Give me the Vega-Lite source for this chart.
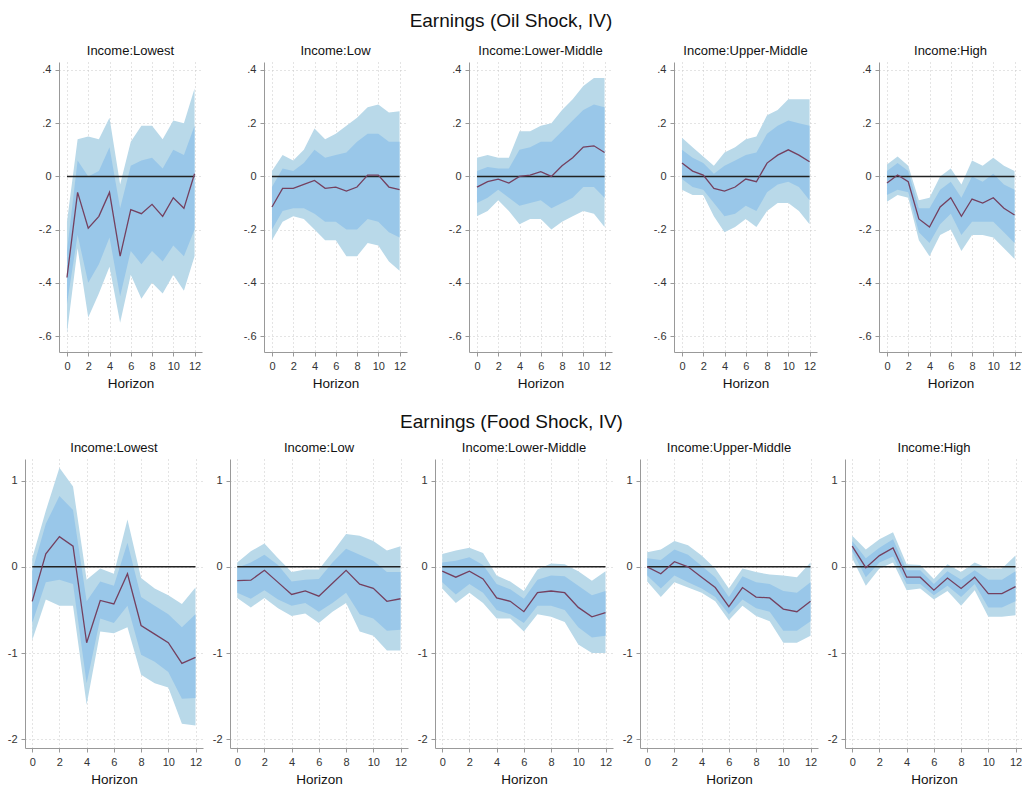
{
  "$schema": "https://vega.github.io/schema/vega-lite/v6.json",
  "padding": {"top": 12, "left": 0, "right": 0, "bottom": 0},
  "background": "white",
  "config": {
    "font": "Liberation Sans",
    "view": {"stroke": null},
    "title": {"fontSize": 19, "fontWeight": "normal", "color": "#111", "anchor": "middle"},
    "header": {"labelFontSize": 13, "labelColor": "#111", "labelPadding": 4, "title": null},
    "axis": {
      "domainColor": "#999", "tickColor": "#999", "tickSize": 4,
      "labelFontSize": 11, "labelColor": "#333", "labelPadding": 4,
      "titleFontSize": 13.5, "titleFontWeight": "normal", "titleColor": "#111", "titlePadding": 5,
      "gridColor": "#c8c8c8", "gridDash": [1, 3], "gridWidth": 1
    }
  },
  "datasets": {
    "oil": [
      {"g":"Lowest","h":0,"b":-0.38,"u90":-0.17,"u68":-0.28,"l68":-0.48,"l90":-0.59},
      {"g":"Lowest","h":1,"b":-0.06,"u90":0.14,"u68":0.06,"l68":-0.22,"l90":-0.27},
      {"g":"Lowest","h":2,"b":-0.195,"u90":0.15,"u68":0.0,"l68":-0.40,"l90":-0.53},
      {"g":"Lowest","h":3,"b":-0.15,"u90":0.14,"u68":0.02,"l68":-0.33,"l90":-0.44},
      {"g":"Lowest","h":4,"b":-0.06,"u90":0.22,"u68":0.11,"l68":-0.23,"l90":-0.34},
      {"g":"Lowest","h":5,"b":-0.30,"u90":-0.03,"u68":-0.12,"l68":-0.45,"l90":-0.55},
      {"g":"Lowest","h":6,"b":-0.125,"u90":0.13,"u68":0.04,"l68":-0.28,"l90":-0.37},
      {"g":"Lowest","h":7,"b":-0.14,"u90":0.19,"u68":0.06,"l68":-0.33,"l90":-0.46},
      {"g":"Lowest","h":8,"b":-0.105,"u90":0.19,"u68":0.07,"l68":-0.28,"l90":-0.40},
      {"g":"Lowest","h":9,"b":-0.15,"u90":0.14,"u68":0.03,"l68":-0.32,"l90":-0.44},
      {"g":"Lowest","h":10,"b":-0.08,"u90":0.21,"u68":0.10,"l68":-0.26,"l90":-0.37},
      {"g":"Lowest","h":11,"b":-0.12,"u90":0.20,"u68":0.08,"l68":-0.30,"l90":-0.43},
      {"g":"Lowest","h":12,"b":0.01,"u90":0.33,"u68":0.19,"l68":-0.20,"l90":-0.30},
      {"g":"Low","h":0,"b":-0.115,"u90":0.02,"u68":-0.04,"l68":-0.20,"l90":-0.24},
      {"g":"Low","h":1,"b":-0.045,"u90":0.08,"u68":0.03,"l68":-0.13,"l90":-0.17},
      {"g":"Low","h":2,"b":-0.045,"u90":0.06,"u68":0.02,"l68":-0.12,"l90":-0.15},
      {"g":"Low","h":3,"b":-0.03,"u90":0.10,"u68":0.05,"l68":-0.12,"l90":-0.16},
      {"g":"Low","h":4,"b":-0.015,"u90":0.18,"u68":0.10,"l68":-0.14,"l90":-0.20},
      {"g":"Low","h":5,"b":-0.045,"u90":0.14,"u68":0.07,"l68":-0.17,"l90":-0.24},
      {"g":"Low","h":6,"b":-0.04,"u90":0.16,"u68":0.08,"l68":-0.17,"l90":-0.24},
      {"g":"Low","h":7,"b":-0.055,"u90":0.19,"u68":0.09,"l68":-0.20,"l90":-0.30},
      {"g":"Low","h":8,"b":-0.04,"u90":0.22,"u68":0.13,"l68":-0.20,"l90":-0.30},
      {"g":"Low","h":9,"b":0.005,"u90":0.26,"u68":0.16,"l68":-0.16,"l90":-0.25},
      {"g":"Low","h":10,"b":0.005,"u90":0.27,"u68":0.16,"l68":-0.17,"l90":-0.26},
      {"g":"Low","h":11,"b":-0.04,"u90":0.24,"u68":0.13,"l68":-0.21,"l90":-0.32},
      {"g":"Low","h":12,"b":-0.05,"u90":0.245,"u68":0.13,"l68":-0.23,"l90":-0.355},
      {"g":"Lower-Middle","h":0,"b":-0.04,"u90":0.07,"u68":0.02,"l68":-0.10,"l90":-0.15},
      {"g":"Lower-Middle","h":1,"b":-0.02,"u90":0.08,"u68":0.035,"l68":-0.08,"l90":-0.13},
      {"g":"Lower-Middle","h":2,"b":-0.01,"u90":0.07,"u68":0.03,"l68":-0.05,"l90":-0.09},
      {"g":"Lower-Middle","h":3,"b":-0.025,"u90":0.07,"u68":0.03,"l68":-0.08,"l90":-0.13},
      {"g":"Lower-Middle","h":4,"b":0.0,"u90":0.17,"u68":0.10,"l68":-0.11,"l90":-0.18},
      {"g":"Lower-Middle","h":5,"b":0.005,"u90":0.17,"u68":0.11,"l68":-0.10,"l90":-0.16},
      {"g":"Lower-Middle","h":6,"b":0.018,"u90":0.19,"u68":0.13,"l68":-0.09,"l90":-0.16},
      {"g":"Lower-Middle","h":7,"b":0.0,"u90":0.20,"u68":0.13,"l68":-0.12,"l90":-0.20},
      {"g":"Lower-Middle","h":8,"b":0.04,"u90":0.25,"u68":0.17,"l68":-0.10,"l90":-0.17},
      {"g":"Lower-Middle","h":9,"b":0.07,"u90":0.29,"u68":0.21,"l68":-0.08,"l90":-0.15},
      {"g":"Lower-Middle","h":10,"b":0.11,"u90":0.34,"u68":0.25,"l68":-0.04,"l90":-0.13},
      {"g":"Lower-Middle","h":11,"b":0.115,"u90":0.37,"u68":0.27,"l68":-0.04,"l90":-0.14},
      {"g":"Lower-Middle","h":12,"b":0.09,"u90":0.37,"u68":0.26,"l68":-0.08,"l90":-0.19},
      {"g":"Upper-Middle","h":0,"b":0.05,"u90":0.145,"u68":0.10,"l68":-0.01,"l90":-0.05},
      {"g":"Upper-Middle","h":1,"b":0.02,"u90":0.11,"u68":0.07,"l68":-0.04,"l90":-0.07},
      {"g":"Upper-Middle","h":2,"b":0.005,"u90":0.075,"u68":0.05,"l68":-0.05,"l90":-0.07},
      {"g":"Upper-Middle","h":3,"b":-0.045,"u90":0.04,"u68":0.01,"l68":-0.10,"l90":-0.15},
      {"g":"Upper-Middle","h":4,"b":-0.055,"u90":0.09,"u68":0.04,"l68":-0.15,"l90":-0.21},
      {"g":"Upper-Middle","h":5,"b":-0.04,"u90":0.11,"u68":0.06,"l68":-0.14,"l90":-0.19},
      {"g":"Upper-Middle","h":6,"b":-0.01,"u90":0.14,"u68":0.08,"l68":-0.11,"l90":-0.16},
      {"g":"Upper-Middle","h":7,"b":-0.02,"u90":0.15,"u68":0.09,"l68":-0.13,"l90":-0.19},
      {"g":"Upper-Middle","h":8,"b":0.05,"u90":0.23,"u68":0.16,"l68":-0.06,"l90":-0.13},
      {"g":"Upper-Middle","h":9,"b":0.08,"u90":0.25,"u68":0.19,"l68":-0.03,"l90":-0.10},
      {"g":"Upper-Middle","h":10,"b":0.10,"u90":0.29,"u68":0.21,"l68":-0.02,"l90":-0.10},
      {"g":"Upper-Middle","h":11,"b":0.08,"u90":0.29,"u68":0.20,"l68":-0.04,"l90":-0.13},
      {"g":"Upper-Middle","h":12,"b":0.055,"u90":0.29,"u68":0.19,"l68":-0.09,"l90":-0.18},
      {"g":"High","h":0,"b":-0.025,"u90":0.045,"u68":0.02,"l68":-0.07,"l90":-0.095},
      {"g":"High","h":1,"b":0.005,"u90":0.075,"u68":0.05,"l68":-0.05,"l90":-0.07},
      {"g":"High","h":2,"b":-0.02,"u90":0.04,"u68":0.02,"l68":-0.06,"l90":-0.08},
      {"g":"High","h":3,"b":-0.16,"u90":-0.09,"u68":-0.12,"l68":-0.21,"l90":-0.24},
      {"g":"High","h":4,"b":-0.19,"u90":-0.08,"u68":-0.12,"l68":-0.25,"l90":-0.30},
      {"g":"High","h":5,"b":-0.115,"u90":0.0,"u68":-0.05,"l68":-0.18,"l90":-0.22},
      {"g":"High","h":6,"b":-0.08,"u90":0.03,"u68":-0.02,"l68":-0.14,"l90":-0.20},
      {"g":"High","h":7,"b":-0.15,"u90":-0.03,"u68":-0.08,"l68":-0.22,"l90":-0.28},
      {"g":"High","h":8,"b":-0.085,"u90":0.06,"u68":0.0,"l68":-0.17,"l90":-0.22},
      {"g":"High","h":9,"b":-0.10,"u90":0.04,"u68":-0.02,"l68":-0.17,"l90":-0.22},
      {"g":"High","h":10,"b":-0.08,"u90":0.07,"u68":0.01,"l68":-0.17,"l90":-0.23},
      {"g":"High","h":11,"b":-0.12,"u90":0.04,"u68":-0.03,"l68":-0.21,"l90":-0.27},
      {"g":"High","h":12,"b":-0.145,"u90":0.02,"u68":-0.05,"l68":-0.25,"l90":-0.31}
    ],
    "food": [
      {"g":"Lowest","h":0,"b":-0.40,"u90":0.10,"u68":-0.05,"l68":-0.65,"l90":-0.85},
      {"g":"Lowest","h":1,"b":0.15,"u90":0.65,"u68":0.50,"l68":-0.18,"l90":-0.38},
      {"g":"Lowest","h":2,"b":0.35,"u90":1.15,"u68":0.82,"l68":-0.15,"l90":-0.45},
      {"g":"Lowest","h":3,"b":0.24,"u90":0.93,"u68":0.66,"l68":-0.20,"l90":-0.45},
      {"g":"Lowest","h":4,"b":-0.88,"u90":-0.15,"u68":-0.40,"l68":-1.35,"l90":-1.60},
      {"g":"Lowest","h":5,"b":-0.39,"u90":-0.02,"u68":-0.17,"l68":-0.60,"l90":-0.75},
      {"g":"Lowest","h":6,"b":-0.43,"u90":-0.08,"u68":-0.22,"l68":-0.65,"l90":-0.77},
      {"g":"Lowest","h":7,"b":-0.08,"u90":0.55,"u68":0.28,"l68":-0.45,"l90":-0.70},
      {"g":"Lowest","h":8,"b":-0.68,"u90":-0.13,"u68":-0.35,"l68":-1.02,"l90":-1.25},
      {"g":"Lowest","h":9,"b":-0.78,"u90":-0.25,"u68":-0.45,"l68":-1.10,"l90":-1.35},
      {"g":"Lowest","h":10,"b":-0.88,"u90":-0.33,"u68":-0.55,"l68":-1.22,"l90":-1.40},
      {"g":"Lowest","h":11,"b":-1.12,"u90":-0.43,"u68":-0.70,"l68":-1.53,"l90":-1.82},
      {"g":"Lowest","h":12,"b":-1.05,"u90":-0.24,"u68":-0.55,"l68":-1.52,"l90":-1.84},
      {"g":"Low","h":0,"b":-0.16,"u90":0.05,"u68":-0.01,"l68":-0.30,"l90":-0.36},
      {"g":"Low","h":1,"b":-0.155,"u90":0.18,"u68":0.05,"l68":-0.37,"l90":-0.47},
      {"g":"Low","h":2,"b":-0.04,"u90":0.27,"u68":0.14,"l68":-0.27,"l90":-0.36},
      {"g":"Low","h":3,"b":-0.18,"u90":0.10,"u68":0.02,"l68":-0.38,"l90":-0.48},
      {"g":"Low","h":4,"b":-0.32,"u90":-0.06,"u68":-0.17,"l68":-0.45,"l90":-0.57},
      {"g":"Low","h":5,"b":-0.28,"u90":-0.03,"u68":-0.15,"l68":-0.42,"l90":-0.54},
      {"g":"Low","h":6,"b":-0.34,"u90":-0.03,"u68":-0.14,"l68":-0.52,"l90":-0.65},
      {"g":"Low","h":7,"b":-0.19,"u90":0.17,"u68":0.05,"l68":-0.42,"l90":-0.52},
      {"g":"Low","h":8,"b":-0.04,"u90":0.38,"u68":0.21,"l68":-0.30,"l90":-0.42},
      {"g":"Low","h":9,"b":-0.20,"u90":0.36,"u68":0.14,"l68":-0.55,"l90":-0.75},
      {"g":"Low","h":10,"b":-0.25,"u90":0.30,"u68":0.07,"l68":-0.60,"l90":-0.80},
      {"g":"Low","h":11,"b":-0.40,"u90":0.19,"u68":-0.06,"l68":-0.74,"l90":-0.97},
      {"g":"Low","h":12,"b":-0.37,"u90":0.24,"u68":-0.06,"l68":-0.73,"l90":-0.97},
      {"g":"Lower-Middle","h":0,"b":-0.05,"u90":0.15,"u68":0.05,"l68":-0.18,"l90":-0.25},
      {"g":"Lower-Middle","h":1,"b":-0.12,"u90":0.19,"u68":0.07,"l68":-0.32,"l90":-0.42},
      {"g":"Lower-Middle","h":2,"b":-0.05,"u90":0.22,"u68":0.11,"l68":-0.20,"l90":-0.30},
      {"g":"Lower-Middle","h":3,"b":-0.14,"u90":0.16,"u68":0.02,"l68":-0.30,"l90":-0.42},
      {"g":"Lower-Middle","h":4,"b":-0.36,"u90":-0.10,"u68":-0.20,"l68":-0.50,"l90":-0.60},
      {"g":"Lower-Middle","h":5,"b":-0.40,"u90":-0.17,"u68":-0.26,"l68":-0.55,"l90":-0.60},
      {"g":"Lower-Middle","h":6,"b":-0.52,"u90":-0.28,"u68":-0.37,"l68":-0.65,"l90":-0.75},
      {"g":"Lower-Middle","h":7,"b":-0.30,"u90":-0.03,"u68":-0.15,"l68":-0.45,"l90":-0.55},
      {"g":"Lower-Middle","h":8,"b":-0.28,"u90":0.04,"u68":-0.10,"l68":-0.45,"l90":-0.58},
      {"g":"Lower-Middle","h":9,"b":-0.30,"u90":0.03,"u68":-0.11,"l68":-0.50,"l90":-0.64},
      {"g":"Lower-Middle","h":10,"b":-0.47,"u90":-0.05,"u68":-0.22,"l68":-0.70,"l90":-0.90},
      {"g":"Lower-Middle","h":11,"b":-0.58,"u90":-0.16,"u68":-0.33,"l68":-0.82,"l90":-1.00},
      {"g":"Lower-Middle","h":12,"b":-0.53,"u90":-0.05,"u68":-0.28,"l68":-0.80,"l90":-1.00},
      {"g":"Upper-Middle","h":0,"b":0.0,"u90":0.17,"u68":0.10,"l68":-0.10,"l90":-0.17},
      {"g":"Upper-Middle","h":1,"b":-0.08,"u90":0.20,"u68":0.08,"l68":-0.25,"l90":-0.35},
      {"g":"Upper-Middle","h":2,"b":0.06,"u90":0.30,"u68":0.20,"l68":-0.10,"l90":-0.18},
      {"g":"Upper-Middle","h":3,"b":0.0,"u90":0.25,"u68":0.14,"l68":-0.18,"l90":-0.24},
      {"g":"Upper-Middle","h":4,"b":-0.12,"u90":0.13,"u68":0.01,"l68":-0.25,"l90":-0.30},
      {"g":"Upper-Middle","h":5,"b":-0.24,"u90":-0.02,"u68":-0.12,"l68":-0.35,"l90":-0.40},
      {"g":"Upper-Middle","h":6,"b":-0.46,"u90":-0.25,"u68":-0.35,"l68":-0.55,"l90":-0.62},
      {"g":"Upper-Middle","h":7,"b":-0.24,"u90":-0.02,"u68":-0.11,"l68":-0.38,"l90":-0.45},
      {"g":"Upper-Middle","h":8,"b":-0.35,"u90":-0.06,"u68":-0.18,"l68":-0.48,"l90":-0.57},
      {"g":"Upper-Middle","h":9,"b":-0.36,"u90":-0.09,"u68":-0.20,"l68":-0.52,"l90":-0.63},
      {"g":"Upper-Middle","h":10,"b":-0.49,"u90":-0.10,"u68":-0.28,"l68":-0.74,"l90":-0.88},
      {"g":"Upper-Middle","h":11,"b":-0.52,"u90":-0.12,"u68":-0.30,"l68":-0.74,"l90":-0.88},
      {"g":"Upper-Middle","h":12,"b":-0.40,"u90":0.05,"u68":-0.18,"l68":-0.63,"l90":-0.80},
      {"g":"High","h":0,"b":0.24,"u90":0.36,"u68":0.30,"l68":0.18,"l90":0.10},
      {"g":"High","h":1,"b":-0.01,"u90":0.20,"u68":0.10,"l68":-0.12,"l90":-0.22},
      {"g":"High","h":2,"b":0.13,"u90":0.32,"u68":0.22,"l68":0.05,"l90":-0.02},
      {"g":"High","h":3,"b":0.22,"u90":0.40,"u68":0.32,"l68":0.12,"l90":0.05},
      {"g":"High","h":4,"b":-0.12,"u90":0.03,"u68":-0.04,"l68":-0.20,"l90":-0.27},
      {"g":"High","h":5,"b":-0.12,"u90":0.02,"u68":-0.04,"l68":-0.20,"l90":-0.25},
      {"g":"High","h":6,"b":-0.27,"u90":-0.14,"u68":-0.20,"l68":-0.33,"l90":-0.38},
      {"g":"High","h":7,"b":-0.13,"u90":0.03,"u68":-0.05,"l68":-0.22,"l90":-0.28},
      {"g":"High","h":8,"b":-0.25,"u90":-0.06,"u68":-0.15,"l68":-0.35,"l90":-0.45},
      {"g":"High","h":9,"b":-0.12,"u90":0.05,"u68":-0.04,"l68":-0.20,"l90":-0.27},
      {"g":"High","h":10,"b":-0.31,"u90":-0.02,"u68":-0.15,"l68":-0.47,"l90":-0.58},
      {"g":"High","h":11,"b":-0.31,"u90":-0.02,"u68":-0.15,"l68":-0.47,"l90":-0.58},
      {"g":"High","h":12,"b":-0.23,"u90":0.13,"u68":-0.05,"l68":-0.40,"l90":-0.56}
    ]
  },
  "spacing": 23,
  "vconcat": [
    {
      "spacing": 0,
      "hconcat": [
        {"width": 9, "height": 1, "data": {"values": []}, "mark": "point"},
        {
          "title": {"text": "Earnings (Oil Shock, IV)", "offset": 14, "dx": -17},
          "data": {"name": "oil"},
          "facet": {
            "column": {
              "field": "g",
              "sort": ["Lowest", "Low", "Lower-Middle", "Upper-Middle", "High"],
              "header": {"title": null, "labelExpr": "'Income:' + datum.value"}
            }
          },
          "spacing": 37,
          "resolve": {"axis": {"y": "independent", "x": "independent"}},
          "spec": {
            "width": 143,
            "height": 290,
            "encoding": {
              "x": {
                "field": "h", "type": "quantitative", "title": "Horizon",
                "scale": {"domain": [-0.75, 12.7], "nice": false, "zero": false},
                "axis": {"values": [0, 2, 4, 6, 8, 10, 12]}
              }
            },
            "layer": [
              {
                "mark": {"type": "area", "color": "#b9d9e9"},
                "encoding": {
                  "y": {
                    "field": "l90", "type": "quantitative", "title": null,
                    "scale": {"domain": [-0.66, 0.43], "nice": false, "zero": false},
                    "axis": {
                      "values": [-0.6, -0.4, -0.2, 0, 0.2, 0.4], "minExtent": 25,
                      "labelExpr": "datum.value == 0 ? '0' : (datum.value < 0 ? '-.' : '.') + round(abs(datum.value) * 10)"
                    }
                  },
                  "y2": {"field": "u90"}
                }
              },
              {
                "mark": {"type": "area", "color": "#99c7e9"},
                "encoding": {"y": {"field": "l68", "type": "quantitative"}, "y2": {"field": "u68"}}
              },
              {
                "transform": [{"filter": "datum.h == 0"}],
                "mark": {"type": "rule", "color": "#222", "strokeWidth": 1.5},
                "encoding": {"x": {"datum": 0}, "x2": {"datum": 12}, "y": {"datum": 0}}
              },
              {
                "mark": {"type": "line", "color": "#74405f", "strokeWidth": 1.3},
                "encoding": {"y": {"field": "b", "type": "quantitative"}}
              }
            ]
          }
        }
      ]
    },
    {
      "title": {"text": "Earnings (Food Shock, IV)", "offset": 10},
      "data": {"name": "food"},
      "facet": {
        "column": {
          "field": "g",
          "sort": ["Lowest", "Low", "Lower-Middle", "Upper-Middle", "High"],
          "header": {"title": null, "labelExpr": "'Income:' + datum.value"}
        }
      },
      "spacing": 2,
      "resolve": {"axis": {"y": "independent", "x": "independent"}},
      "spec": {
        "width": 178,
        "height": 289,
        "encoding": {
          "x": {
            "field": "h", "type": "quantitative", "title": "Horizon",
            "scale": {"domain": [-0.53, 12.55], "nice": false, "zero": false},
            "axis": {"values": [0, 2, 4, 6, 8, 10, 12]}
          }
        },
        "layer": [
          {
            "mark": {"type": "area", "color": "#b9d9e9"},
            "encoding": {
              "y": {
                "field": "l90", "type": "quantitative", "title": null,
                "scale": {"domain": [-2.1, 1.25], "nice": false, "zero": false},
                "axis": {
                  "values": [-2, -1, 0, 1], "minExtent": 25,
                  "labelExpr": "datum.value < 0 ? '-' + abs(datum.value) : '' + datum.value"
                }
              },
              "y2": {"field": "u90"}
            }
          },
          {
            "mark": {"type": "area", "color": "#99c7e9"},
            "encoding": {"y": {"field": "l68", "type": "quantitative"}, "y2": {"field": "u68"}}
          },
          {
            "transform": [{"filter": "datum.h == 0"}],
            "mark": {"type": "rule", "color": "#222", "strokeWidth": 1.5},
            "encoding": {"x": {"datum": 0}, "x2": {"datum": 12}, "y": {"datum": 0}}
          },
          {
            "mark": {"type": "line", "color": "#74405f", "strokeWidth": 1.3},
            "encoding": {"y": {"field": "b", "type": "quantitative"}}
          }
        ]
      }
    }
  ]
}
